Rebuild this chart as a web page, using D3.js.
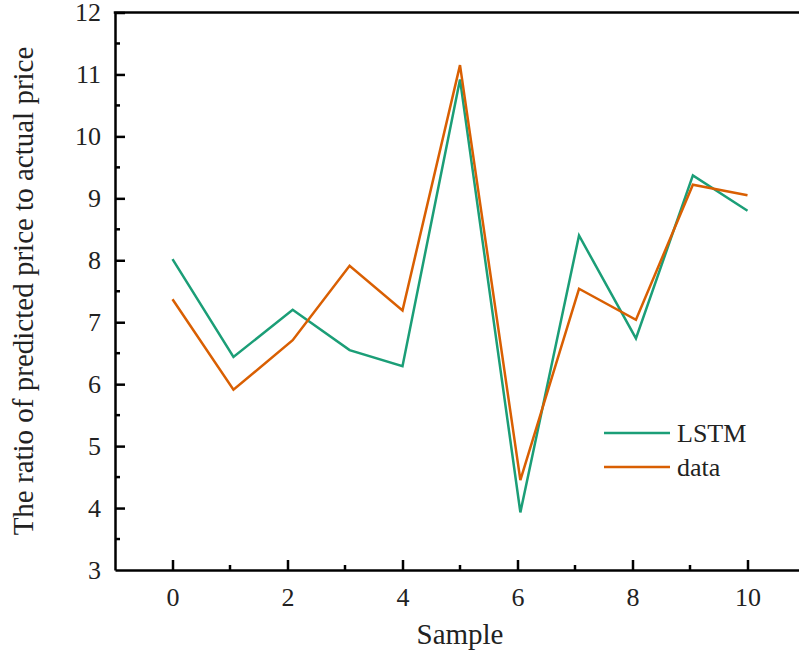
<!DOCTYPE html>
<html>
<head>
<meta charset="utf-8">
<script src="https://cdn.jsdelivr.net/npm/d3@7"></script>
<style>
body{margin:0;background:#fff;}
svg text{font-family:"Liberation Serif","Times New Roman",serif;fill:#222;}
</style>
</head>
<body>
<script>
// sample positions as they sit on the plot (slightly off the integers)
var sample=[0,1.06,2.09,3.08,4.0,5.0,6.05,7.07,8.06,9.05,10.0]
var lstm=[8.02,6.44,7.20,6.55,6.29,10.92,3.93,8.40,6.74,9.37,8.80]
var actual=[7.37,5.91,6.71,7.91,7.19,11.15,4.45,7.54,7.04,9.22,9.05]
var xTicks=[0,2,4,6,8,10]
var yTicks=[3,4,5,6,7,8,9,10,11,12]
var series=[{name:"LSTM",values:lstm,color:"#1b9e77"},{name:"data",values:actual,color:"#d95f02"}]
////////////////////////////////////////
var W=799,H=656;
var svg=d3.select("body").append("svg").attr("width",W).attr("height",H);
var x=d3.scaleLinear().domain([-1,11]).range([115,805]);
var y=d3.scaleLinear().domain([3,12]).range([570,12.5]);

// minor ticks
var xMinor=d3.range(1,11,2);
var yMinor=d3.range(3.5,12,1);

var g=svg.append("g");
// bottom axis
var xa=d3.axisBottom(x).tickValues(xTicks).tickSizeInner(-10).tickSizeOuter(0).tickPadding(18).tickFormat(d3.format("d"));
var gx=g.append("g").attr("transform","translate(0,570)").call(xa);
svg.append("g").attr("transform","translate(0,570)")
   .selectAll("line").data(xMinor).enter().append("line")
   .attr("x1",function(d){return x(d)}).attr("x2",function(d){return x(d)})
   .attr("y1",0).attr("y2",-5).attr("stroke","#000").attr("stroke-width",2.5);
// left axis
var ya=d3.axisLeft(y).tickValues(yTicks).tickSizeInner(-10).tickSizeOuter(0).tickPadding(14).tickFormat(d3.format("d"));
var gy=g.append("g").attr("transform","translate(115,0)").call(ya);
svg.append("g").attr("transform","translate(115,0)")
   .selectAll("line").data(yMinor).enter().append("line")
   .attr("y1",function(d){return y(d)}).attr("y2",function(d){return y(d)})
   .attr("x1",0).attr("x2",5).attr("stroke","#000").attr("stroke-width",2.5);
g.selectAll(".domain").attr("stroke","#000").attr("stroke-width",2.5);
g.selectAll(".tick line").attr("stroke","#000").attr("stroke-width",2.5);
g.attr("font-family",null);
gx.attr("font-family",null).attr("font-size",null);
gy.attr("font-family",null).attr("font-size",null);
g.selectAll(".tick text").attr("font-size",26).attr("fill","#222");
gy.selectAll(".tick").filter(function(d){return d==3}).select("line").remove();
// top frame line
svg.append("line").attr("x1",113.75).attr("x2",805).attr("y1",y(12)).attr("y2",y(12))
   .attr("stroke","#000").attr("stroke-width",2.5);
svg.append("line").attr("x1",x(11)).attr("x2",x(11)).attr("y1",y(12)).attr("y2",y(3))
   .attr("stroke","#000").attr("stroke-width",2.5);

// lines
var line=d3.line().x(function(d,i){return x(sample[i])}).y(function(d){return y(d)});
svg.selectAll(".series").data(series).enter().append("path")
   .attr("class","series")
   .attr("d",function(d){return line(d.values)})
   .attr("fill","none")
   .attr("stroke",function(d){return d.color})
   .attr("stroke-width",2.5)
   .attr("stroke-linejoin","miter");

// legend
var lg=svg.append("g").selectAll("g").data(series).enter().append("g")
   .attr("transform",function(d,i){return "translate(604,"+(433+i*34)+")"});
lg.append("line").attr("x1",0).attr("x2",66).attr("y1",0).attr("y2",0)
  .attr("stroke",function(d){return d.color}).attr("stroke-width",2.5);
lg.append("text").attr("x",73).attr("y",9).attr("font-size",26)
  .text(function(d){return d.name});

// axis titles
svg.append("text").attr("x",460).attr("y",644).attr("text-anchor","middle")
   .attr("font-size",29).text("Sample");
svg.append("text").attr("transform","translate(33,291) rotate(-90)")
   .attr("text-anchor","middle").attr("font-size",29)
   .text("The ratio of predicted price to actual price");
</script>
</body>
</html>
